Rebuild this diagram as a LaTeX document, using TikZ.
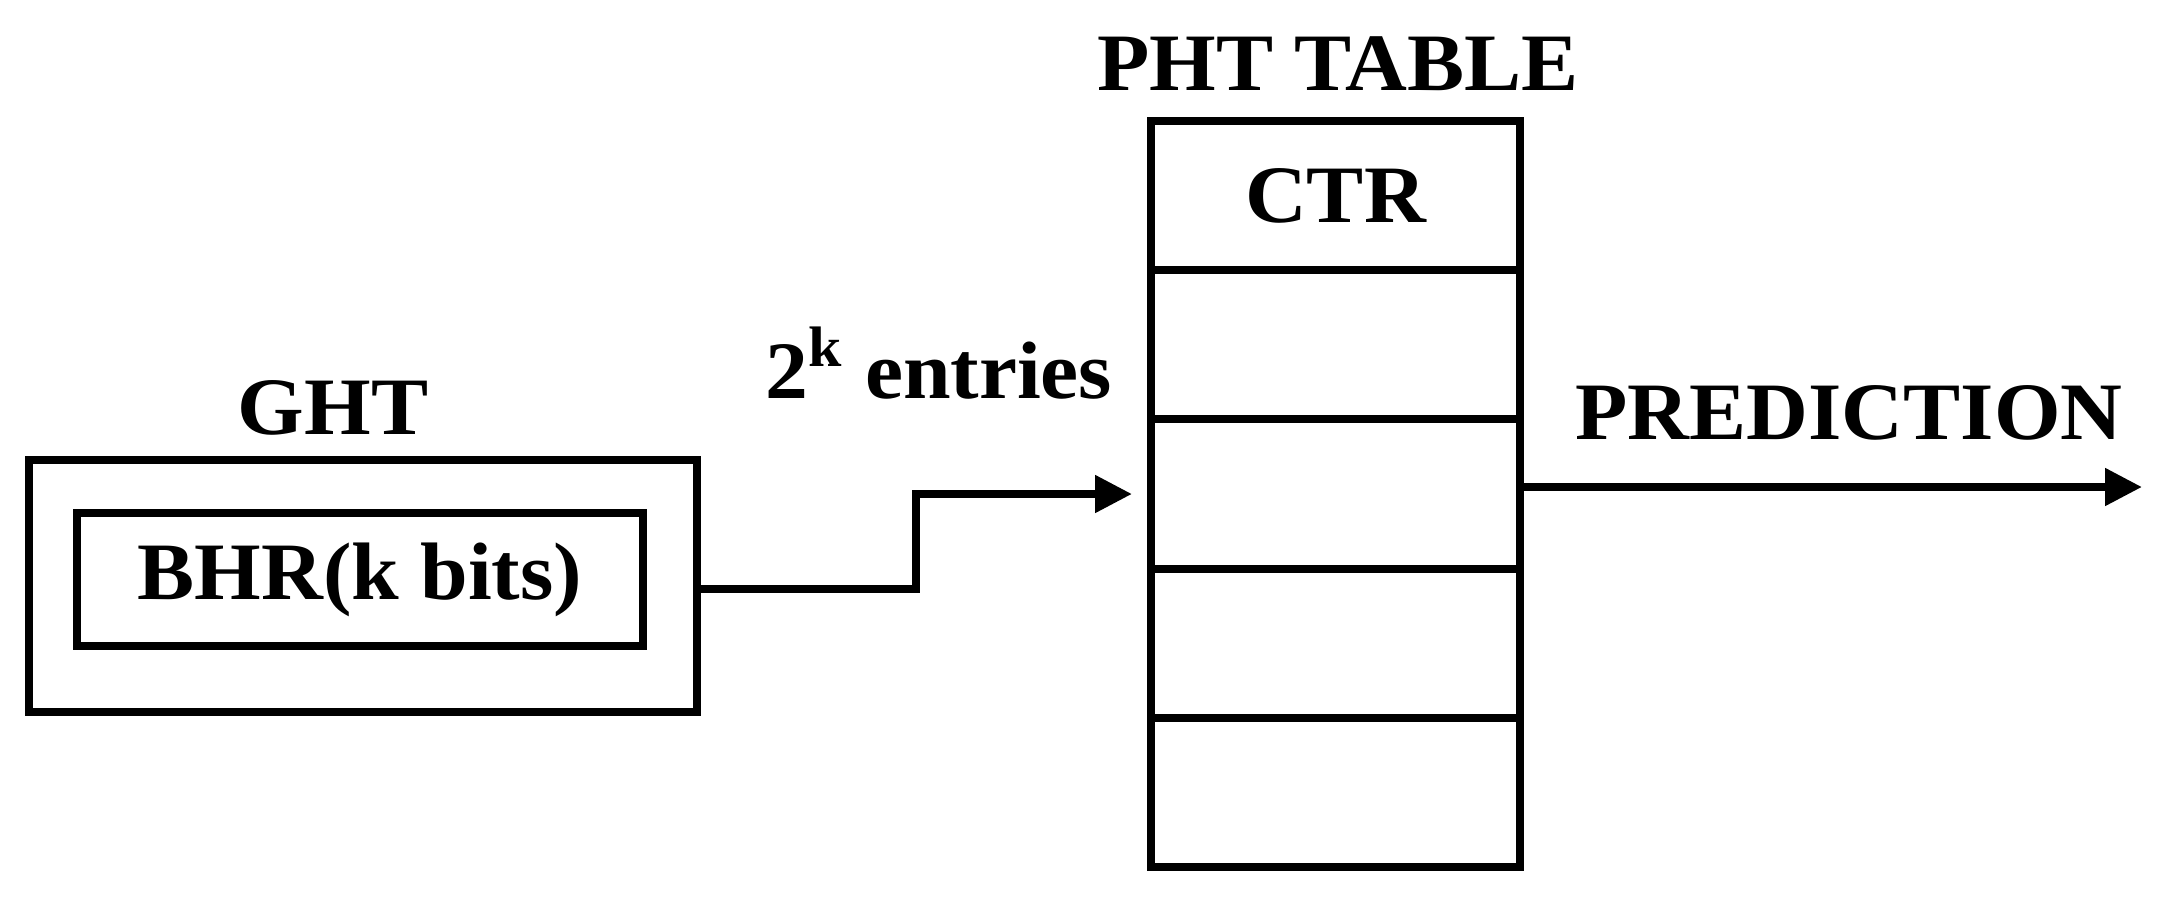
\documentclass[tikz,border=0pt]{standalone}
\usepackage{fontspec}
\setmainfont{Liberation Serif}[FakeStretch=1.05]
\usepackage{tikz}
\usetikzlibrary{arrows.meta}
\usetikzlibrary{positioning}

\begin{document}
\begin{tikzpicture}[line width=2.3pt, font=\fontsize{23.2}{28}\selectfont\bfseries,
	cell/.style={draw, minimum width=3.69cm, minimum height=1.492cm, inner sep=0pt, outer sep=0pt},
	arr/.style={-{Triangle[length=0.37cm, width=0.36cm]}}]
	\useasboundingbox (0,0) rectangle (21.62,9.08);
	
	\node[draw, minimum width=6.68cm, minimum height=2.52cm, inner sep=0pt, outer sep=0pt] (ght) at (3.63,3.22) {};
	\node[draw, minimum width=5.655cm, minimum height=1.33cm, inner sep=0pt] (bhr) at (3.60,3.285) {BHR(k bits)};
	
	\node[cell, anchor=north] (row1) at (13.355,7.87) {CTR};
	\foreach \i [count=\j from 2] in {1,...,4}
		\node[cell, below=0pt of row\i] (row\j) {};
	
	\draw[arr] ([yshift=-0.03cm]ght.east) -- ++(2.19,0) |- ([xshift=-0.19cm]row3.west);
	\draw[arr] ([yshift=0.07cm]row3.east) -- ++(6.22,0);
	
	\node[anchor=base] (ghtlabel) at (3.33,4.74) {GHT};
	\node[anchor=base] (phtlabel) at (13.38,8.18) {PHT TABLE};
	\node[anchor=base] (entries) at (9.39,5.10) {2\textsuperscript{k} entries};
	\node[anchor=base] (predlabel) at (18.49,4.69) {PREDICTION};
\end{tikzpicture}
\end{document}
